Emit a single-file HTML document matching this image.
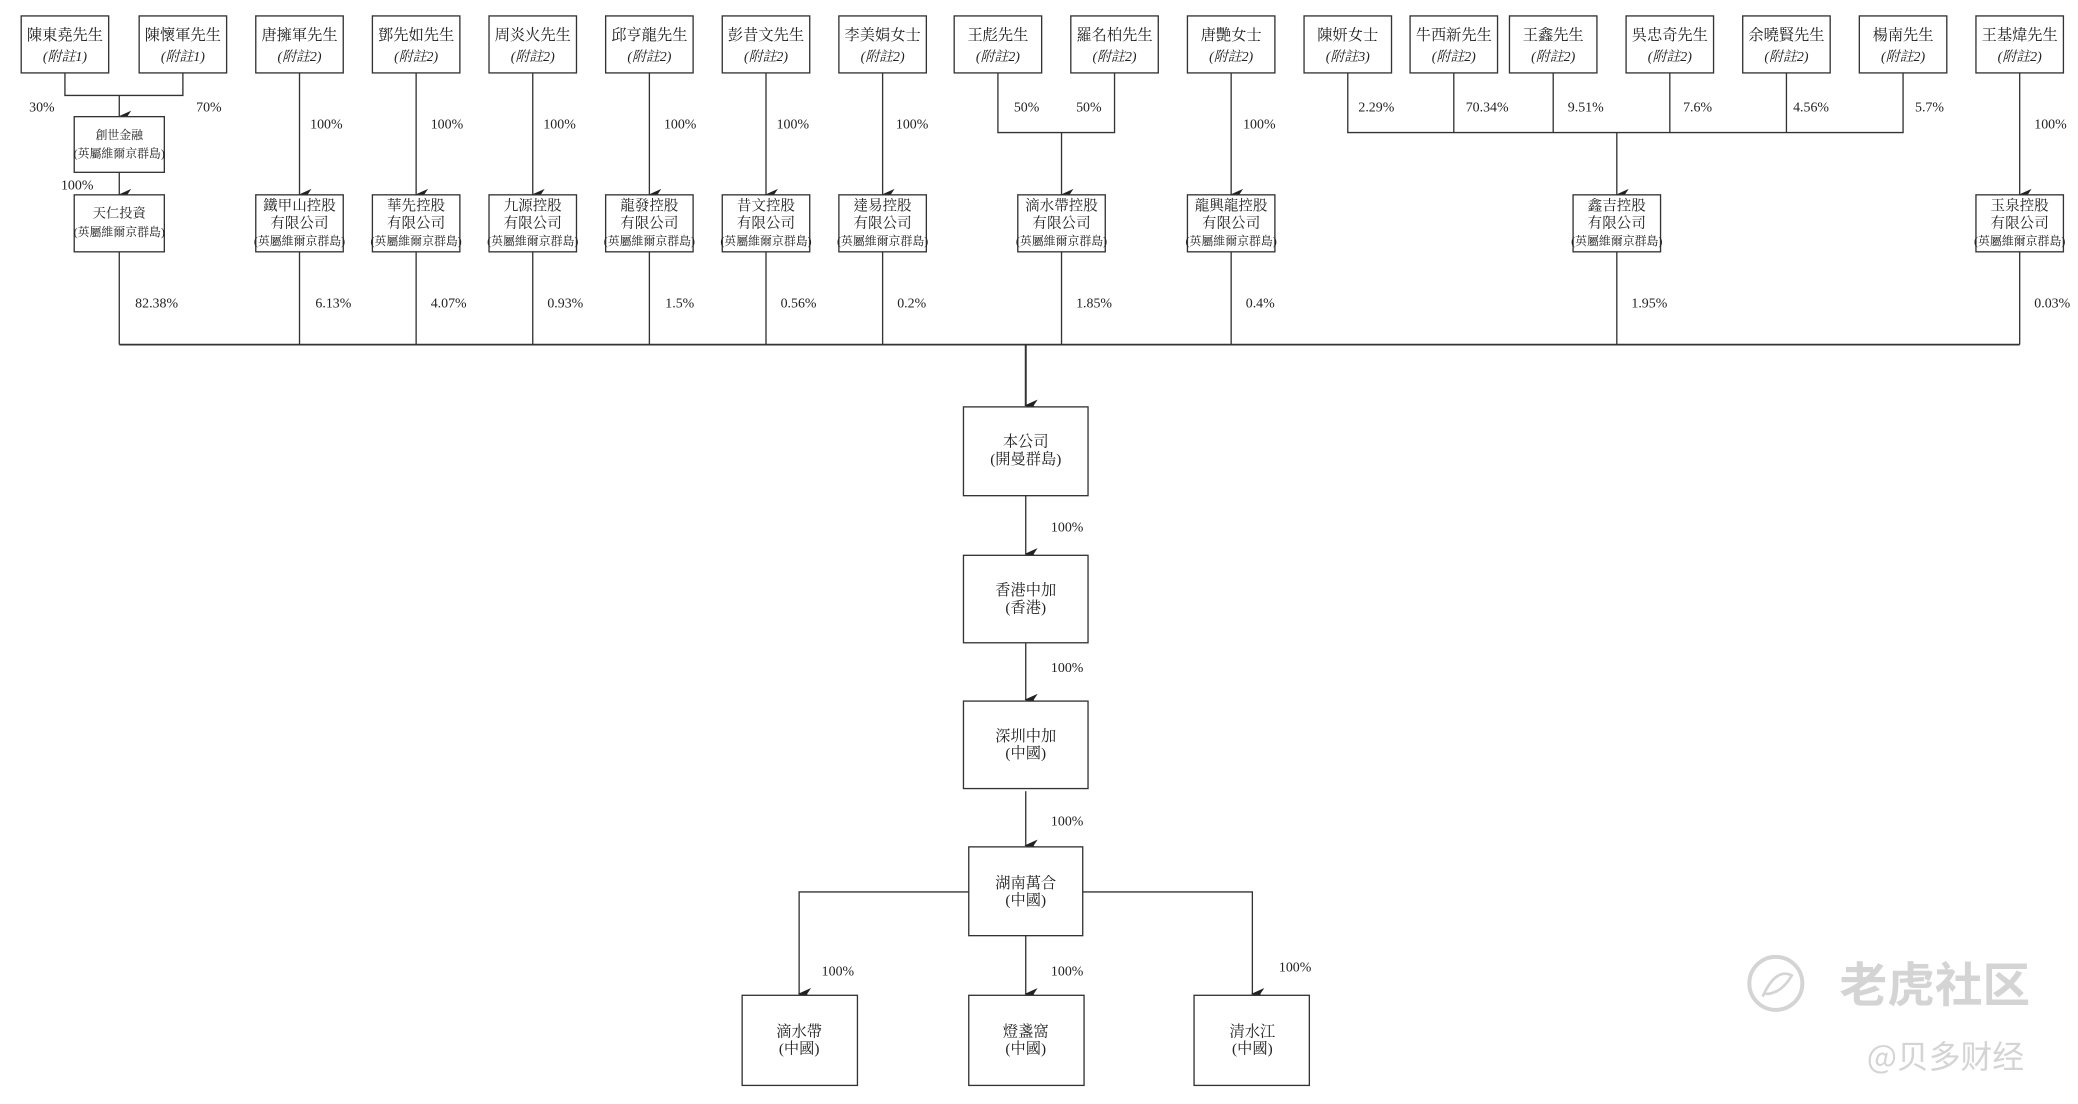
<!DOCTYPE html>
<html><head><meta charset="utf-8"><style>
html,body{margin:0;padding:0;background:#fff;width:2078px;height:1104px;overflow:hidden}
svg{display:block}
text{font-family:"Liberation Serif","Noto Serif CJK TC","Noto Serif CJK SC",serif;fill:#222;text-anchor:middle}
.n{font-size:11.5px}
.h{font-size:11px}
.s{font-size:10.5px;font-style:italic}
.sm{font-size:9px}
.p{font-size:10.5px;text-anchor:start}
rect{fill:#fff;stroke:#333;stroke-width:1}
line,polyline{stroke:#333;stroke-width:1;fill:none}
</style></head><body>
<svg width="2078" height="1104" viewBox="0 0 1568 833" xmlns="http://www.w3.org/2000/svg">
<defs><marker id="a" markerWidth="9" markerHeight="10" refX="4.5" refY="9" orient="auto" markerUnits="userSpaceOnUse"><path d="M0,0 L4.5,10 L9,0 L4.5,3 Z" fill="#222"/></marker></defs>

<g>
<rect x="16" y="12" width="66" height="43"/><text class="n" x="49" y="30">陳東堯先生</text><text class="s" x="49" y="46">(附註1)</text>
<rect x="105" y="12" width="66" height="43"/><text class="n" x="138" y="30">陳懷軍先生</text><text class="s" x="138" y="46">(附註1)</text>
<rect x="193" y="12" width="66" height="43"/><text class="n" x="226" y="30">唐擁軍先生</text><text class="s" x="226" y="46">(附註2)</text>
<rect x="281" y="12" width="66" height="43"/><text class="n" x="314" y="30">鄧先如先生</text><text class="s" x="314" y="46">(附註2)</text>
<rect x="369" y="12" width="66" height="43"/><text class="n" x="402" y="30">周炎火先生</text><text class="s" x="402" y="46">(附註2)</text>
<rect x="457" y="12" width="66" height="43"/><text class="n" x="490" y="30">邱亨龍先生</text><text class="s" x="490" y="46">(附註2)</text>
<rect x="545" y="12" width="66" height="43"/><text class="n" x="578" y="30">彭昔文先生</text><text class="s" x="578" y="46">(附註2)</text>
<rect x="633" y="12" width="66" height="43"/><text class="n" x="666" y="30">李美娟女士</text><text class="s" x="666" y="46">(附註2)</text>
<rect x="720" y="12" width="66" height="43"/><text class="n" x="753" y="30">王彪先生</text><text class="s" x="753" y="46">(附註2)</text>
<rect x="808" y="12" width="66" height="43"/><text class="n" x="841" y="30">羅名柏先生</text><text class="s" x="841" y="46">(附註2)</text>
<rect x="896" y="12" width="66" height="43"/><text class="n" x="929" y="30">唐艷女士</text><text class="s" x="929" y="46">(附註2)</text>
<rect x="984" y="12" width="66" height="43"/><text class="n" x="1017" y="30">陳妍女士</text><text class="s" x="1017" y="46">(附註3)</text>
<rect x="1064" y="12" width="66" height="43"/><text class="n" x="1097" y="30">牛西新先生</text><text class="s" x="1097" y="46">(附註2)</text>
<rect x="1139" y="12" width="66" height="43"/><text class="n" x="1172" y="30">王鑫先生</text><text class="s" x="1172" y="46">(附註2)</text>
<rect x="1227" y="12" width="66" height="43"/><text class="n" x="1260" y="30">吳忠奇先生</text><text class="s" x="1260" y="46">(附註2)</text>
<rect x="1315" y="12" width="66" height="43"/><text class="n" x="1348" y="30">余曉賢先生</text><text class="s" x="1348" y="46">(附註2)</text>
<rect x="1403" y="12" width="66" height="43"/><text class="n" x="1436" y="30">楊南先生</text><text class="s" x="1436" y="46">(附註2)</text>
<rect x="1491" y="12" width="66" height="43"/><text class="n" x="1524" y="30">王基煒先生</text><text class="s" x="1524" y="46">(附註2)</text>
</g>

<polyline points="49,55 49,72 138,72 138,55"/>
<line x1="90" y1="72" x2="90" y2="88" marker-end="url(#a)"/>
<text class="p" x="22" y="84">30%</text><text class="p" x="148" y="84">70%</text>
<rect x="56" y="88" width="68" height="42"/><text class="sm" x="90" y="105">創世金融</text><text class="sm" x="90" y="119">(英屬維爾京群島)</text>
<line x1="90" y1="130" x2="90" y2="147" marker-end="url(#a)"/>
<text class="p" x="46" y="143">100%</text>
<rect x="56" y="147" width="68" height="43"/><text class="n" x="90" y="164" style="font-size:10px">天仁投資</text><text class="sm" x="90" y="178">(英屬維爾京群島)</text>

<g>
<line x1="226" y1="55" x2="226" y2="147" marker-end="url(#a)"/><text class="p" x="234" y="97">100%</text>
<line x1="314" y1="55" x2="314" y2="147" marker-end="url(#a)"/><text class="p" x="325" y="97">100%</text>
<line x1="402" y1="55" x2="402" y2="147" marker-end="url(#a)"/><text class="p" x="410" y="97">100%</text>
<line x1="490" y1="55" x2="490" y2="147" marker-end="url(#a)"/><text class="p" x="501" y="97">100%</text>
<line x1="578" y1="55" x2="578" y2="147" marker-end="url(#a)"/><text class="p" x="586" y="97">100%</text>
<line x1="666" y1="55" x2="666" y2="147" marker-end="url(#a)"/><text class="p" x="676" y="97">100%</text>
<line x1="929" y1="55" x2="929" y2="147" marker-end="url(#a)"/><text class="p" x="938" y="97">100%</text>
<line x1="1524" y1="55" x2="1524" y2="147" marker-end="url(#a)"/><text class="p" x="1535" y="97">100%</text>
</g>
<polyline points="753,55 753,100 841,100 841,55"/>
<line x1="801" y1="100" x2="801" y2="147" marker-end="url(#a)"/>
<text class="p" x="765" y="84">50%</text><text class="p" x="812" y="84">50%</text>
<polyline points="1017,55 1017,100 1436,100 1436,55"/>
<line x1="1097" y1="55" x2="1097" y2="100"/><line x1="1172" y1="55" x2="1172" y2="100"/>
<line x1="1260" y1="55" x2="1260" y2="100"/><line x1="1348" y1="55" x2="1348" y2="100"/>
<line x1="1220" y1="100" x2="1220" y2="147" marker-end="url(#a)"/>
<text class="p" x="1025" y="84">2.29%</text><text class="p" x="1106" y="84">70.34%</text><text class="p" x="1183" y="84">9.51%</text>
<text class="p" x="1270" y="84">7.6%</text><text class="p" x="1353" y="84">4.56%</text><text class="p" x="1445" y="84">5.7%</text>

<g>
<rect x="193" y="147" width="66" height="43"/><text class="h" x="226" y="159">鐵甲山控股</text><text class="h" x="226" y="172">有限公司</text><text class="sm" x="226" y="185">(英屬維爾京群島)</text>
<rect x="281" y="147" width="66" height="43"/><text class="h" x="314" y="159">華先控股</text><text class="h" x="314" y="172">有限公司</text><text class="sm" x="314" y="185">(英屬維爾京群島)</text>
<rect x="369" y="147" width="66" height="43"/><text class="h" x="402" y="159">九源控股</text><text class="h" x="402" y="172">有限公司</text><text class="sm" x="402" y="185">(英屬維爾京群島)</text>
<rect x="457" y="147" width="66" height="43"/><text class="h" x="490" y="159">龍發控股</text><text class="h" x="490" y="172">有限公司</text><text class="sm" x="490" y="185">(英屬維爾京群島)</text>
<rect x="545" y="147" width="66" height="43"/><text class="h" x="578" y="159">昔文控股</text><text class="h" x="578" y="172">有限公司</text><text class="sm" x="578" y="185">(英屬維爾京群島)</text>
<rect x="633" y="147" width="66" height="43"/><text class="h" x="666" y="159">達易控股</text><text class="h" x="666" y="172">有限公司</text><text class="sm" x="666" y="185">(英屬維爾京群島)</text>
<rect x="768" y="147" width="66" height="43"/><text class="h" x="801" y="159">滴水帶控股</text><text class="h" x="801" y="172">有限公司</text><text class="sm" x="801" y="185">(英屬維爾京群島)</text>
<rect x="896" y="147" width="66" height="43"/><text class="h" x="929" y="159">龍興龍控股</text><text class="h" x="929" y="172">有限公司</text><text class="sm" x="929" y="185">(英屬維爾京群島)</text>
<rect x="1187" y="147" width="66" height="43"/><text class="h" x="1220" y="159">鑫吉控股</text><text class="h" x="1220" y="172">有限公司</text><text class="sm" x="1220" y="185">(英屬維爾京群島)</text>
<rect x="1491" y="147" width="66" height="43"/><text class="h" x="1524" y="159">玉泉控股</text><text class="h" x="1524" y="172">有限公司</text><text class="sm" x="1524" y="185">(英屬維爾京群島)</text>
</g>

<g>
<line x1="90" y1="190" x2="90" y2="260"/><line x1="226" y1="190" x2="226" y2="260"/>
<line x1="314" y1="190" x2="314" y2="260"/><line x1="402" y1="190" x2="402" y2="260"/>
<line x1="490" y1="190" x2="490" y2="260"/><line x1="578" y1="190" x2="578" y2="260"/>
<line x1="666" y1="190" x2="666" y2="260"/><line x1="801" y1="190" x2="801" y2="260"/>
<line x1="929" y1="190" x2="929" y2="260"/><line x1="1220" y1="190" x2="1220" y2="260"/>
<line x1="1524" y1="190" x2="1524" y2="260"/>
<line x1="90" y1="260" x2="1524" y2="260" style="stroke-width:1.3"/>
<line x1="774" y1="260" x2="774" y2="306" style="stroke-width:1.5" marker-end="url(#a)"/>
</g>
<text class="p" x="102" y="232">82.38%</text><text class="p" x="238" y="232">6.13%</text><text class="p" x="325" y="232">4.07%</text>
<text class="p" x="413" y="232">0.93%</text><text class="p" x="502" y="232">1.5%</text><text class="p" x="589" y="232">0.56%</text>
<text class="p" x="677" y="232">0.2%</text><text class="p" x="812" y="232">1.85%</text><text class="p" x="940" y="232">0.4%</text>
<text class="p" x="1231" y="232">1.95%</text><text class="p" x="1535" y="232">0.03%</text>

<rect x="727" y="307" width="94" height="67"/><text class="n" x="774" y="337">本公司</text><text class="n" x="774" y="350">(開曼群島)</text>
<line x1="774" y1="374" x2="774" y2="418" marker-end="url(#a)"/><text class="p" x="793" y="401">100%</text>
<rect x="727" y="419" width="94" height="66"/><text class="n" x="774" y="449">香港中加</text><text class="n" x="774" y="462">(香港)</text>
<line x1="774" y1="485" x2="774" y2="528" marker-end="url(#a)"/><text class="p" x="793" y="507">100%</text>
<rect x="727" y="529" width="94" height="66"/><text class="n" x="774" y="559">深圳中加</text><text class="n" x="774" y="572">(中國)</text>
<line x1="774" y1="597" x2="774" y2="638" marker-end="url(#a)"/><text class="p" x="793" y="623">100%</text>
<rect x="731" y="639" width="86" height="67"/><text class="n" x="774" y="670">湖南萬合</text><text class="n" x="774" y="683">(中國)</text>
<polyline points="731,673 603,673 603,750" marker-end="url(#a)"/>
<polyline points="817,673 945,673 945,750" marker-end="url(#a)"/>
<line x1="774" y1="706" x2="774" y2="750" marker-end="url(#a)"/>
<text class="p" x="620" y="736">100%</text><text class="p" x="793" y="736">100%</text><text class="p" x="965" y="733">100%</text>
<rect x="560" y="751" width="87" height="68"/><text class="n" x="603" y="782">滴水帶</text><text class="n" x="603" y="795">(中國)</text>
<rect x="731" y="751" width="87" height="68"/><text class="n" x="774" y="782">燈盞窩</text><text class="n" x="774" y="795">(中國)</text>
<rect x="901" y="751" width="87" height="68"/><text class="n" x="945" y="782">清水江</text><text class="n" x="945" y="795">(中國)</text>

<circle cx="1340" cy="742" r="20" style="fill:none;stroke:#d4d4d4;stroke-width:3"/>
<path d="M1330,752 Q1340,730 1352,736 Q1344,750 1332,750" style="fill:none;stroke:#d4d4d4;stroke-width:2"/>
<text x="1460" y="756" style="font-family:'Noto Sans CJK SC',sans-serif;font-size:36px;font-weight:bold;fill:#d4d4d4">老虎社区</text>
<text x="1468" y="806" style="font-family:'Noto Sans CJK SC',sans-serif;font-size:24px;fill:#d4d4d4">@贝多财经</text>
</svg>
</body></html>
